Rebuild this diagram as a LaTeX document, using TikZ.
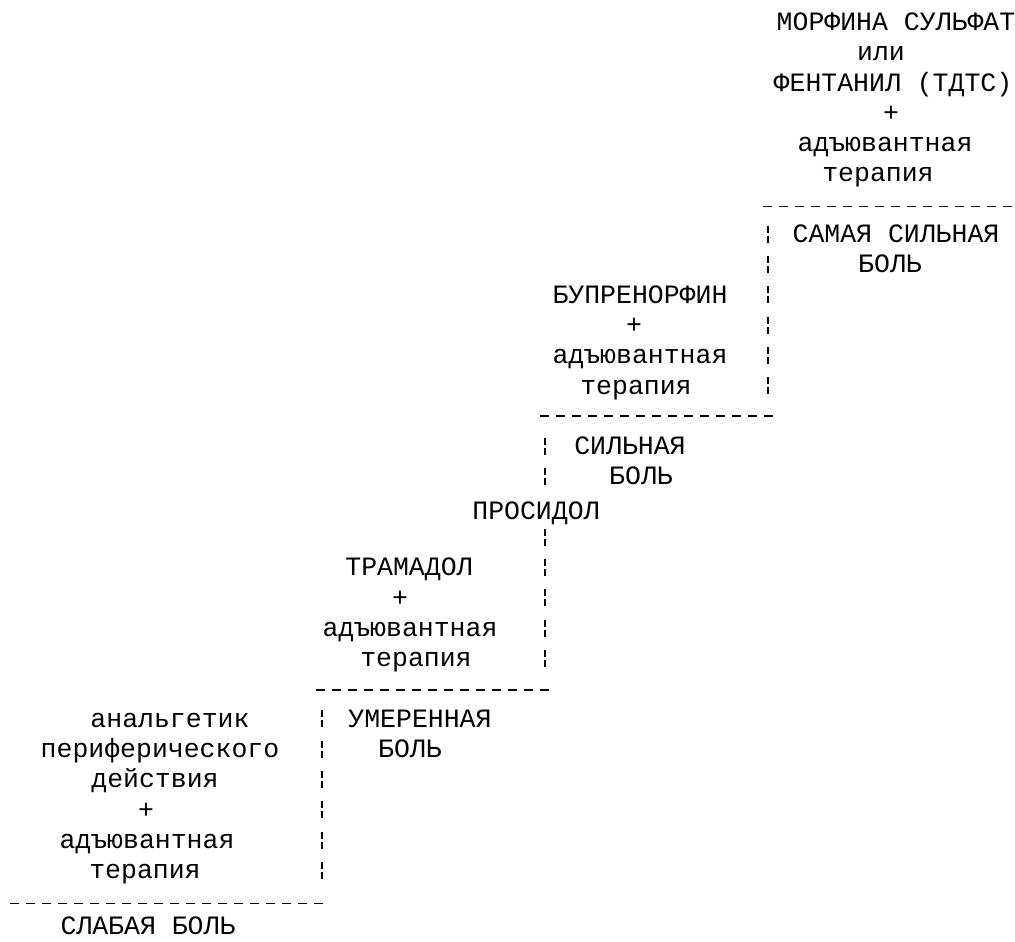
\documentclass[tikz,border=0pt]{standalone}
\usepackage{fontspec}
\setmainfont{Liberation Mono}
\begin{document}
\begin{tikzpicture}
  [x=1pt,y=-30.3pt,
   every node/.style={inner sep=0pt,text height=0.58em,text depth=0.3em,
     font=\fontsize{26.5pt}{30pt}\selectfont},
   tread/.style={line width=1.3pt,dash pattern=on 9pt off 7pt},
   riser/.style={line width=1.3pt,dash pattern=on 7pt off 3pt on 7pt off 13.3pt}]
  \useasboundingbox (0,-0.726) rectangle (1015,30.363);
  \begin{scope}[yshift=-7pt]
  % fourth step
  \node (d1) at (896,0) {МОРФИНА СУЛЬФАТ};
  \node (d2) at (881,1) {или};
  \node (d3) at (893,2) {ФЕНТАНИЛ (ТДТС)};
  \node (d4) at (891,3) {+};
  \node (d5) at (885,4) {адъювантная};
  \node (d6) at (878,5) {терапия};
  \node (p4) at (896,7) {САМАЯ СИЛЬНАЯ};
  \node (p4b) at (890,8) {БОЛЬ};
  % third step
  \node (c1) at (640,9) {БУПРЕНОРФИН};
  \node (c2) at (634,10) {+};
  \node (c3) at (640,11) {адъювантная};
  \node (c4) at (636,12) {терапия};
  \node (p3) at (630,14) {СИЛЬНАЯ};
  \node (p3b) at (641,15) {БОЛЬ};
  \node (pr) at (536,16.15) {ПРОСИДОЛ};
  % second step
  \node (b1) at (409,18) {ТРАМАДОЛ};
  \node (b2) at (400,19) {+};
  \node (b3) at (410,20) {адъювантная};
  \node (b4) at (416,21) {терапия};
  \node (p2) at (420,23) {УМЕРЕННАЯ};
  \node (p2b) at (410,24) {БОЛЬ};
  % first step
  \node (a1) at (170,23) {анальгетик};
  \node (a2) at (160,24) {периферического};
  \node (a3) at (155,25) {действия};
  \node (a4) at (146,26) {+};
  \node (a5) at (147,27) {адъювантная};
  \node (a6) at (145,28) {терапия};
  \node[text depth=0pt] (p1) at (148,29.8) {СЛАБАЯ БОЛЬ};
  \end{scope}

  % stair corners
  \coordinate (h1l) at (10,29.1);  \coordinate (h1r) at (323,29.1);
  \coordinate (v2t) at (322,22.72); \coordinate (v2b) at (322,28.28);
  \coordinate (h2l) at (316,22.05); \coordinate (h2r) at (549,22.05);
  \coordinate (v3t) at (545,13.72); \coordinate (v3m) at (545,15.28);
  \coordinate (v3n) at (545,16.72); \coordinate (v3b) at (545,21.28);
  \coordinate (h3l) at (540,13);  \coordinate (h3r) at (773,13);
  \coordinate (v4t) at (768,6.72); \coordinate (v4b) at (768,12.28);
  \coordinate (h4l) at (763,6.1); \coordinate (h4r) at (1012,6.1);
  \foreach \from/\to in {h1l/h1r,h2l/h2r,h3l/h3r,h4l/h4r}
    \draw[tread] (\from) -- (\to);
  \foreach \from/\to in {v2t/v2b,v3t/v3m,v3n/v3b,v4t/v4b}
    \draw[riser] (\from) -- (\to);
\end{tikzpicture}
\end{document}
